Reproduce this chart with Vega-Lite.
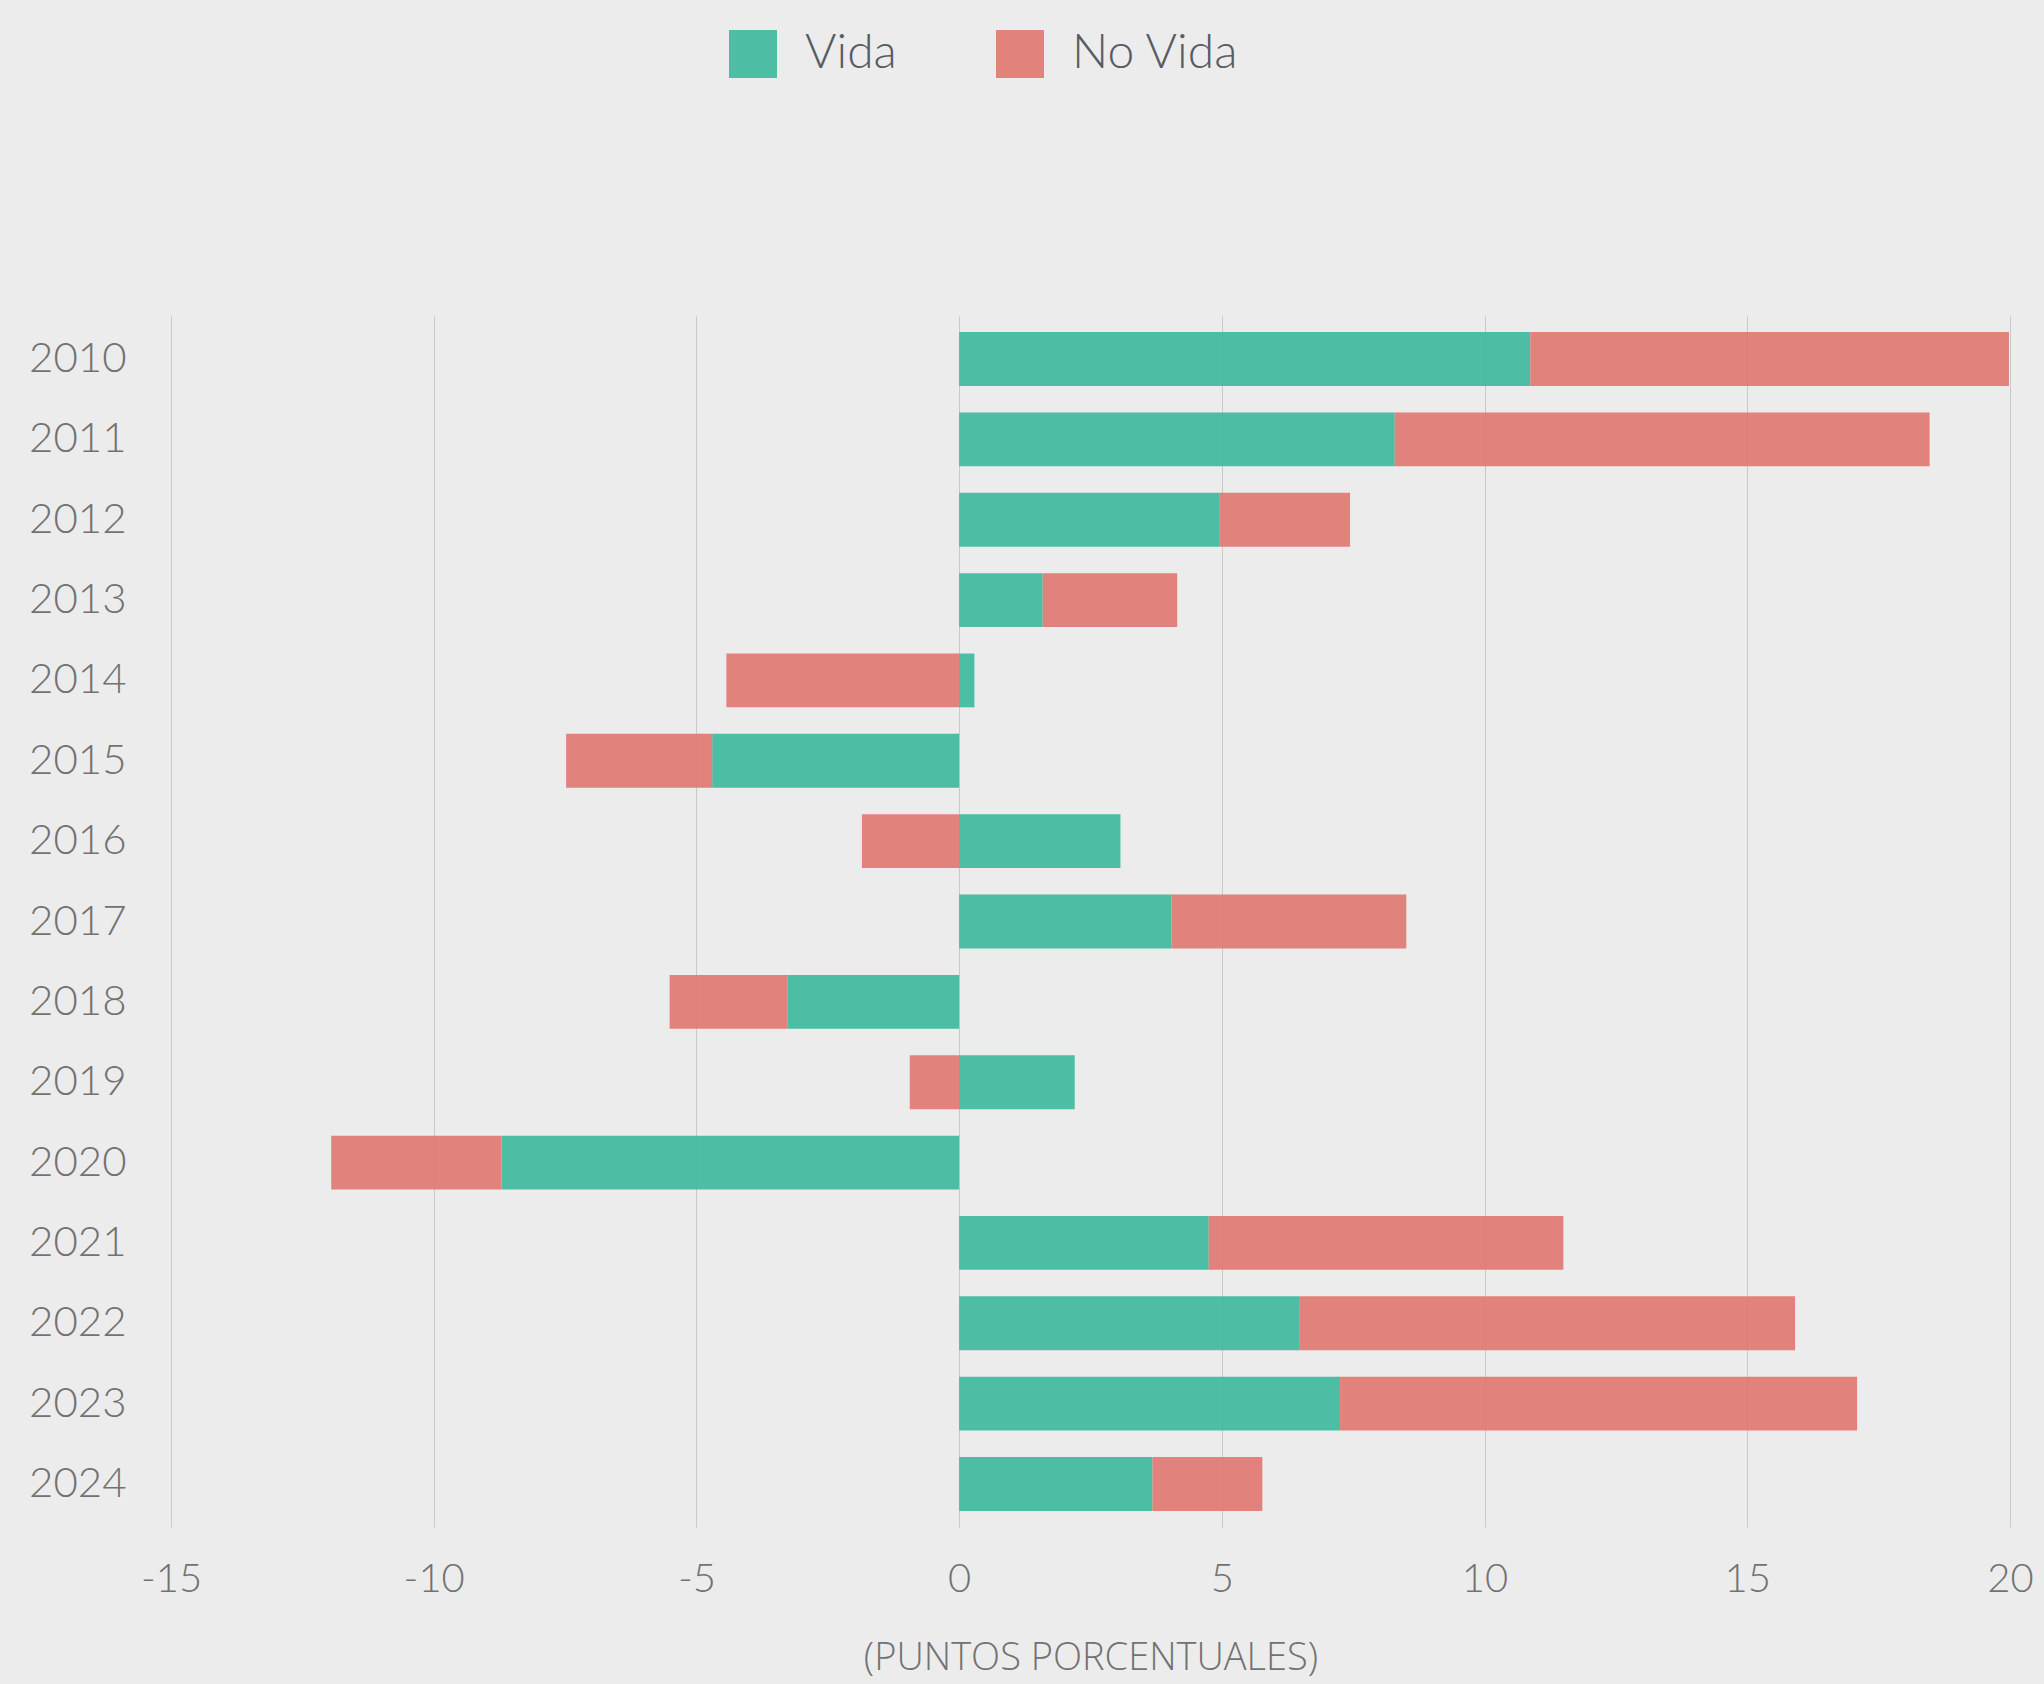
{
  "$schema": "https://vega.github.io/schema/vega-lite/v6.json",
  "autosize": {"type": "none"},
  "padding": {"left": 171, "top": 316, "right": 34, "bottom": 157},
  "width": 1839,
  "height": 1211,
  "background": "#ECECEC",
  "config": {
    "view": {"stroke": null},
    "font": "Lato"
  },
  "data": {
    "values": [
      {"anio": "2010", "serie": "Vida", "valor": 10.87},
      {"anio": "2010", "serie": "No Vida", "valor": 9.11},
      {"anio": "2011", "serie": "Vida", "valor": 8.29},
      {"anio": "2011", "serie": "No Vida", "valor": 10.18},
      {"anio": "2012", "serie": "Vida", "valor": 4.96},
      {"anio": "2012", "serie": "No Vida", "valor": 2.48},
      {"anio": "2013", "serie": "Vida", "valor": 1.59},
      {"anio": "2013", "serie": "No Vida", "valor": 2.56},
      {"anio": "2014", "serie": "Vida", "valor": 0.29},
      {"anio": "2014", "serie": "No Vida", "valor": -4.43},
      {"anio": "2015", "serie": "Vida", "valor": -4.70},
      {"anio": "2015", "serie": "No Vida", "valor": -2.78},
      {"anio": "2016", "serie": "Vida", "valor": 3.07},
      {"anio": "2016", "serie": "No Vida", "valor": -1.85},
      {"anio": "2017", "serie": "Vida", "valor": 4.04},
      {"anio": "2017", "serie": "No Vida", "valor": 4.47},
      {"anio": "2018", "serie": "Vida", "valor": -3.27},
      {"anio": "2018", "serie": "No Vida", "valor": -2.24},
      {"anio": "2019", "serie": "Vida", "valor": 2.20},
      {"anio": "2019", "serie": "No Vida", "valor": -0.94},
      {"anio": "2020", "serie": "Vida", "valor": -8.71},
      {"anio": "2020", "serie": "No Vida", "valor": -3.24},
      {"anio": "2021", "serie": "Vida", "valor": 4.75},
      {"anio": "2021", "serie": "No Vida", "valor": 6.75},
      {"anio": "2022", "serie": "Vida", "valor": 6.47},
      {"anio": "2022", "serie": "No Vida", "valor": 9.44},
      {"anio": "2023", "serie": "Vida", "valor": 7.25},
      {"anio": "2023", "serie": "No Vida", "valor": 9.84},
      {"anio": "2024", "serie": "Vida", "valor": 3.68},
      {"anio": "2024", "serie": "No Vida", "valor": 2.09}
    ]
  },
  "mark": {"type": "bar", "opacity": 0.92},
  "encoding": {
    "y": {
      "field": "anio",
      "type": "ordinal",
      "sort": "ascending",
      "scale": {"paddingInner": 0.33, "paddingOuter": 0.2},
      "axis": {
        "title": null,
        "domain": false,
        "ticks": false,
        "grid": false,
        "labelFontSize": 42,
        "labelFontWeight": 300,
        "labelColor": "#727272",
        "labelPadding": 45
      }
    },
    "x": {
      "field": "valor",
      "type": "quantitative",
      "stack": "zero",
      "scale": {"domain": [-15, 20], "nice": false, "zero": false},
      "axis": {
        "title": "(PUNTOS PORCENTUALES)",
        "values": [-15, -10, -5, 0, 5, 10, 15, 20],
        "labelExpr": "'' + datum.value",
        "labelFlush": false,
        "labelOverlap": false,
        "domain": false,
        "ticks": false,
        "grid": true,
        "gridColor": "#c9c9c9",
        "gridWidth": 1,
        "labelFontSize": 40,
        "labelFontWeight": 300,
        "labelColor": "#727272",
        "labelPadding": 32,
        "titleFont": "Open Sans",
        "titleFontSize": 38,
        "titleFontWeight": 300,
        "titleColor": "#727272",
        "titlePadding": 40
      }
    },
    "color": {
      "field": "serie",
      "type": "nominal",
      "scale": {"domain": ["Vida", "No Vida"], "range": ["#3fb89d", "#df7872"]},
      "legend": {
        "title": null,
        "orient": "none",
        "direction": "horizontal",
        "legendX": 558,
        "legendY": -286,
        "symbolType": "square",
        "symbolSize": 2304,
        "symbolStrokeWidth": 0,
        "symbolOpacity": 0.92,
        "labelFontSize": 48,
        "labelFontWeight": 300,
        "labelColor": "#575c64",
        "labelOffset": 28,
        "labelLimit": 0,
        "columnPadding": 99
      }
    },
    "order": {"field": "serie", "sort": "descending"}
  }
}
